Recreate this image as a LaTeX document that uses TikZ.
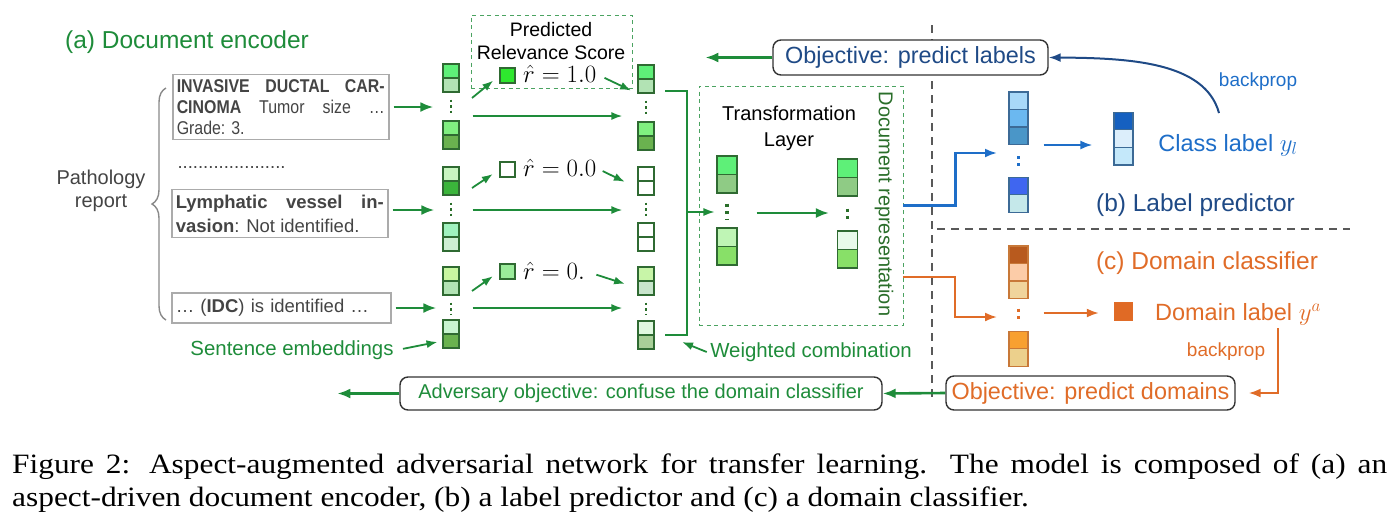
\documentclass[tikz,border=0pt]{standalone}
\usepackage[no-math]{fontspec}
\setmainfont{Liberation Sans}
\newfontfamily\capfont[FakeStretch=1.12]{Liberation Serif}
\newfontfamily\narrowfont[FakeStretch=0.86]{Liberation Sans}
\usetikzlibrary{arrows.meta,decorations.pathreplacing}

\definecolor{encgreen}{HTML}{1E8C3A}
\definecolor{repgreen}{HTML}{2A6E2A}
\definecolor{cellline}{HTML}{2F6A32}
\definecolor{lblblue}{HTML}{1E6EC8}
\definecolor{navyblue}{HTML}{1F4A86}
\definecolor{bluecellline}{HTML}{3C6A96}
\definecolor{domorange}{HTML}{E06C28}
\definecolor{orangecellline}{HTML}{C87838}
\definecolor{boxgray}{HTML}{ABABAB}
\definecolor{txtgray}{HTML}{444444}

\tikzset{
  gcell/.style={draw=cellline, line width=1.1pt, minimum width=16pt, minimum height=14pt, inner sep=0pt},
  tcell/.style={gcell, minimum width=20pt, minimum height=18.5pt},
  bcell/.style={draw=bluecellline, line width=1.1pt, minimum width=19pt, minimum height=17.5pt, inner sep=0pt},
  ocell/.style={bcell, draw=orangecellline},
  rsq/.style={draw=cellline, line width=1.1pt, minimum size=15pt, inner sep=0pt},
  sentbox/.style={draw=boxgray, line width=1.5pt, inner xsep=4pt, inner ysep=5pt, text=txtgray, align=justify, anchor=west},
  objbox/.style={draw=black!80, fill=white, line width=1.4pt, rounded corners=8pt, inner sep=0pt},
  dashbox/.style={draw=encgreen!80, line width=0.9pt, dash pattern=on 4pt off 3.5pt},
  feed/.style={draw=encgreen, line width=2.6pt, -{Latex[length=13pt,width=10pt]}},
  flow/.style={draw=encgreen, line width=1.8pt, -{Latex[length=11pt,width=8pt]}},
  vdots/.style={draw=repgreen, line width=2.6pt, dash pattern=on 2.5pt off 3pt},
  tdots/.style={draw=repgreen, line width=3.4pt, dash pattern=on 3pt off 4.5pt},
  bdots/.style={draw=lblblue, line width=3.2pt, dash pattern=on 3pt off 4pt},
  odots/.style={draw=domorange, line width=3.2pt, dash pattern=on 3pt off 4pt},
  blueflow/.style={draw=lblblue, line width=2.2pt, -{Latex[length=12pt,width=9pt]}},
  orangeflow/.style={draw=domorange, line width=2pt, -{Latex[length=12pt,width=9pt]}},
  sepline/.style={draw=black!65, line width=1.4pt, dash pattern=on 8pt off 6pt},
}

\begin{document}
\begin{tikzpicture}[x=1pt, y=-1pt]
  \useasboundingbox (0,0) rectangle (1394,528);

  % separators between the three parts
  \draw[sepline] (932,25) -- (932,400);
  \draw[sepline] (937,229) -- (1350,229);

  % (a) document encoder
  \node[text=encgreen, font=\fontsize{24.5}{28}\selectfont] (titleA) at (187,42) {(a) Document encoder};
  \node[text=txtgray, align=center, font=\fontsize{20}{23}\selectfont] (path) at (101,191) {Pathology\\report};
  \draw[draw=boxgray!80!black, line width=1.4pt, decorate, decoration={brace, amplitude=14pt}] (166,320) -- (166,88);

  \node[sentbox, text width=208pt, font=\narrowfont\fontsize{18.5}{21}\selectfont] (box1) at (172,107)
    {\textbf{INVASIVE DUCTAL CAR-}\linebreak \textbf{CINOMA} Tumor size \dots\linebreak Grade: 3.};
  \node[text=txtgray, font=\fontsize{18.5}{21}\selectfont] (gap) at (231.5,168) {.....................};
  \node[sentbox, text width=208pt, font=\fontsize{18.5}{24}\selectfont] (box2) at (171,213.5)
    {\textbf{Lymphatic vessel in-}\linebreak \textbf{vasion}: Not identified.};
  \node[sentbox, text width=211pt, minimum height=30pt, align=left, font=\fontsize{18.5}{21}\selectfont] (box3) at (171,308)
    {\dots{} (\textbf{IDC}) is identified \dots};

  % sentence embeddings
  \foreach \n/\x/\y/\c in {s1a/451/71/5EF078, s1b/451/85/B2E3B4, s1c/451/128/80F080, s1d/451/142/6AB24F,
                           s2a/451/174/C8F5C0, s2b/451/188/3BB53B, s2c/451/230/A0F2BE, s2d/451/244/CDEFD2,
                           s3a/451/274/C8F7A0, s3b/451/288/B2E3B4, s3c/451/327/C8F5D0, s3d/451/341/6AB24F,
                           w1a/646/72/5EF078, w1b/646/86/B2E3B4, w1c/646/129/80F080, w1d/646/143/6AB24F,
                           w2a/646/174/FFFFFF, w2b/646/188/FFFFFF, w2c/646/230/FFFFFF, w2d/646/244/FFFFFF,
                           w3a/646/274/C8F5A8, w3b/646/288/C8E5CC, w3c/646/328/E0F8E0, w3d/646/342/A8CF98}
    {\definecolor{cellfill}{HTML}{\c}
     \node[gcell, fill=cellfill] (\n) at (\x,\y) {};}
  \foreach \g in {1,2,3}
  {
    \draw[vdots] ([yshift=-7pt]s\g b.south) -- ([yshift=5pt]s\g c.north);
    \draw[vdots] ([yshift=-7pt]w\g b.south) -- ([yshift=5pt]w\g c.north);
  }

  \draw[feed, shorten <=4pt, shorten >=9pt] (box1.east) -- (box1.east -| s1a.west);
  \draw[feed, shorten <=4pt, shorten >=8pt] ([yshift=3.5pt]box2.east) -- ([yshift=3.5pt]box2.east -| s2a.west);
  \draw[feed, shorten <=4pt, shorten >=6pt] (box3.east) -- (box3.east -| s3a.west);

  \coordinate (m1) at (451,116);
  \coordinate (m2) at (451,210);
  \coordinate (m3) at (451,308);
  \foreach \g in {1,2,3}
    \draw[flow, shorten <=13pt, shorten >=15pt] (m\g -| s\g a.east) -- (m\g -| w\g a.west);

  \node[text=encgreen, font=\fontsize{20.4}{24}\selectfont] (se) at (292,350) {Sentence embeddings};
  \draw[flow, shorten <=6pt, shorten >=5pt] (se.east) -- (s3d.west);

  % predicted relevance score
  \node[dashbox, minimum width=161pt, minimum height=73pt] (relbox) at (551.5,51.5) {};
  \node[align=center, font=\fontsize{19.5}{23}\selectfont] (reltxt) at (551,41) {Predicted\\Relevance Score};
  \node[rsq, fill={rgb,255:red,46;green,232;blue,46}] (r1) at (507.5,75.5) {};
  \node[rsq, fill=white] (r2) at (507.5,169.5) {};
  \node[rsq, fill={rgb,255:red,154;green,235;blue,154}] (r3) at (507.5,271.5) {};
  \node[anchor=west, inner sep=0pt, font=\fontsize{23}{26}\selectfont] (r1txt) at (523,74) {$\hat r = 1.0$};
  \node[anchor=west, inner sep=0pt, font=\fontsize{23}{26}\selectfont] (r2txt) at (523,168) {$\hat r = 0.0$};
  \node[anchor=west, inner sep=0pt, font=\fontsize{23}{26}\selectfont] (r3txt) at (523,271) {$\hat r = 0.$};

  \coordinate (a1) at (472,98);
  \coordinate (a2) at (472,188);
  \coordinate (a3) at (472,291);
  \draw[flow, shorten >=8pt] (a1) -- (r1.west);
  \draw[flow, shorten >=8pt] (a2) -- (r2.west);
  \draw[flow, shorten >=8pt] (a3) -- (r3.west);
  \draw[flow, shorten <=9pt, shorten >=7pt] (r1txt.east) -- (w1b.south west);
  \draw[flow, shorten <=7pt, shorten >=14pt] (r2txt.east) -- (w2b.west);
  \draw[flow, shorten <=12pt, shorten >=13pt] (r3txt.east) -- (w3b.west);

  % weighted combination
  \coordinate (bt) at (665,91);
  \coordinate (bb) at (665,335);
  \draw[draw=encgreen, line width=1.4pt] (bt) -- ++(22,0) |- (bb);
  \coordinate (bx) at (687,212);
  \node[text=encgreen, font=\fontsize{20.4}{24}\selectfont] (wc) at (811,352) {Weighted combination};
  \coordinate (wcend) at (682,342);
  \draw[flow] (wc.west) -- (wcend);

  % transformation layer
  \node[dashbox, minimum width=204pt, minimum height=239pt] (tbox) at (801,205.5) {};
  \node[align=center, font=\fontsize{20}{26}\selectfont] (tltxt) at (789,128) {Transformation\\Layer};
  \node[rotate=-90, text=repgreen, font=\fontsize{20}{24}\selectfont] (docrep) at (884,204) {Document representation};
  \foreach \n/\x/\y/\c in {ta1/727/165.25/5EF078, ta2/727/183.75/8FCB85, ta3/727/237.25/BFF5B5, ta4/727/255.75/88E068,
                           tb1/847.5/168.25/5EF078, tb2/847.5/186.75/8FCB85, tb3/847.5/240.25/E8FAEA, tb4/847.5/258.75/88E068}
    {\definecolor{cellfill}{HTML}{\c}
     \node[tcell, fill=cellfill] (\n) at (\x,\y) {};}
  \draw[tdots] ([yshift=-10pt]ta2.south) -- ([yshift=8pt]ta3.north);
  \draw[tdots] ([yshift=-12pt]tb2.south) -- ([yshift=8pt]tb3.north);
  \draw[flow, line width=1.4pt, shorten >=2pt] (bx) -- (bx -| ta1.west);
  \coordinate (tmid) at (787,213);
  \draw[feed, line width=2.4pt, shorten <=19pt, shorten >=8pt] (tmid -| ta1.east) -- (tmid -| tb1.west);

  % objectives
  \node[objbox, minimum width=275pt, minimum height=35pt, text=navyblue, font=\fontsize{23.4}{26}\selectfont] (objl) at (910.5,57.5) {Objective: predict labels};
  \draw[feed] (objl.west) -- ++(-67,0);
  \node[objbox, minimum width=289pt, minimum height=34pt, text=domorange, font=\fontsize{23.4}{26}\selectfont] (objd) at (1090.5,393) {Objective: predict domains};
  \node[objbox, minimum width=482pt, minimum height=33pt, text=encgreen, font=\fontsize{20}{24}\selectfont] (adv) at (641,393.5) {Adversary objective: confuse the domain classifier};
  \draw[feed] (objd.west) -- (adv.east);
  \draw[feed] (adv.west) -- ++(-62,0);

  % (b) label predictor
  \foreach \n/\y/\c in {l1/100.75/A8D8F8, l2/118.25/6BB8F0, l3/135.75/4A96C8, l4/186.5/3F66F0, l5/203.5/C5E8EA}
    {\definecolor{cellfill}{HTML}{\c}
     \node[bcell, fill=cellfill] (\n) at (1018.5,\y) {};}
  \foreach \n/\y/\c in {c1/120.8/1560C0, c2/138.5/DCEEFB, c3/156.2/C4E8FA}
    {\definecolor{cellfill}{HTML}{\c}
     \node[bcell, fill=cellfill] (\n) at (1123.5,\y) {};}
  \draw[bdots] ([yshift=-11pt]l3.south) -- ([yshift=8pt]l4.north);
  \coordinate (lin) at (997,153);
  \draw[blueflow] (tbox.east) -- ++(52,0) |- (lin);
  \coordinate (lmid) at (1018.5,145);
  \draw[blueflow, shorten <=15pt, shorten >=21pt] (lmid -| l1.east) -- (lmid -| c1.west);
  \node[text=lblblue, font=\fontsize{23.5}{28}\selectfont] (clsl) at (1228,145) {Class label $y_l$};
  \node[text=navyblue, font=\fontsize{24.5}{28}\selectfont] (titleB) at (1195.5,205) {(b) Label predictor};
  \node[text=lblblue, font=\fontsize{19}{22}\selectfont] (bpl) at (1258,82) {backprop};
  \coordinate (bpstart) at (1219,113);
  \draw[draw=navyblue, line width=2pt, -{Latex[length=12pt,width=9pt]}] (bpstart) .. controls (1205,62) and (1130,58) .. (objl.east);

  % (c) domain classifier
  \foreach \n/\y/\c in {d1/254.75/B85A1E, d2/272.25/FCCCA8, d3/289.75/F0D49C, d4/340.5/F8A030, d5/357.5/ECD08C}
    {\definecolor{cellfill}{HTML}{\c}
     \node[ocell, fill=cellfill] (\n) at (1018.5,\y) {};}
  \draw[odots] ([yshift=-9.5pt]d3.south) -- ([yshift=9pt]d4.north);
  \node[draw=domorange, fill={rgb,255:red,224;green,106;blue,37}, minimum size=18pt, inner sep=0pt] (dsq) at (1123,311) {};
  \coordinate (dout) at (903,277);
  \coordinate (din) at (997,317);
  \draw[orangeflow] (dout) -- ++(52,0) |- (din);
  \coordinate (dmid) at (1018.5,313);
  \draw[orangeflow, shorten <=15pt, shorten >=15pt] (dmid -| d1.east) -- (dmid -| dsq.west);
  \node[text=domorange, font=\fontsize{24.5}{28}\selectfont] (titleC) at (1207,263) {(c) Domain classifier};
  \node[text=domorange, font=\fontsize{23.5}{28}\selectfont] (doml) at (1238,314) {Domain label $y^a$};
  \node[text=domorange, font=\fontsize{19}{22}\selectfont] (bpd) at (1226,352) {backprop};
  \coordinate (dlstart) at (1278,328);
  \draw[orangeflow, shorten >=13pt] (dlstart) |- (objd.east);

  % caption
  \node[anchor=north west, inner sep=0pt, text width=1375pt, align=justify, font=\capfont\fontsize{28}{33}\selectfont] (cap) at (12,454)
    {Figure 2: Aspect-augmented adversarial network for transfer learning.  The model is composed of (a) an\linebreak aspect-driven document encoder, (b) a label predictor and (c) a domain classifier.};
\end{tikzpicture}
\end{document}
